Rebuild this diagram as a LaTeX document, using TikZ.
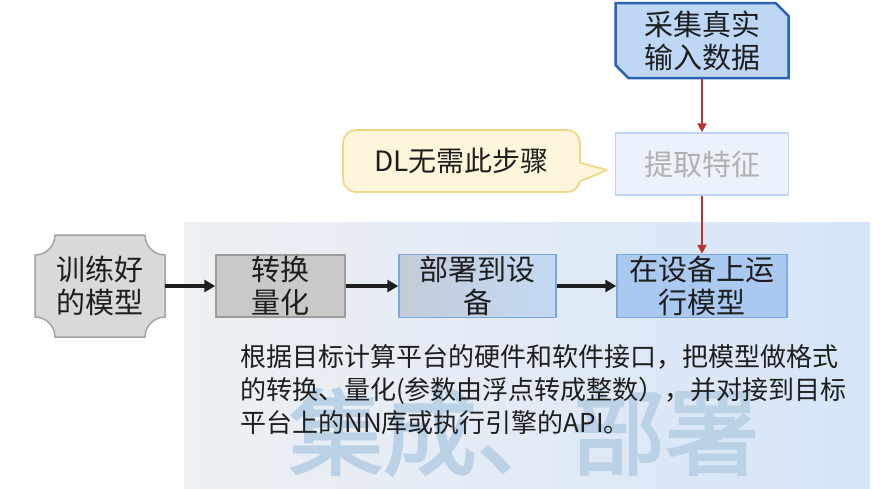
\documentclass[tikz,border=0pt]{standalone}
\usepackage{fontspec}
\newfontfamily\cjk{Noto Sans CJK SC}
\newfontfamily\cjkwm[FakeBold=2.5]{Noto Sans CJK SC}
\usetikzlibrary{shapes.misc,arrows.meta,calc}
\definecolor{txt}{HTML}{1E1E1E}
\definecolor{panelL}{HTML}{EEF0F3}
\definecolor{panelR}{HTML}{D5E5F8}
\definecolor{wm}{HTML}{BAD1E6}
\definecolor{grayfill}{HTML}{C9C9C9}
\definecolor{grayline}{HTML}{9C9C9C}
\definecolor{lgrayfill}{HTML}{D9D9D9}
\definecolor{lgrayline}{HTML}{A3A3A3}
\definecolor{bushuL}{HTML}{C3CCD8}
\definecolor{bushuR}{HTML}{C4DAF5}
\definecolor{blueline}{HTML}{7DA7DF}
\definecolor{runfill}{HTML}{A9C9F1}
\definecolor{caijifill}{HTML}{BDD7F5}
\definecolor{caijiline}{HTML}{2B62B3}
\definecolor{tiqufill}{HTML}{EBF2FB}
\definecolor{tiquline}{HTML}{BED4F1}
\definecolor{tiqutxt}{HTML}{B0B0B0}
\definecolor{calfill}{HTML}{FDF6DB}
\definecolor{calline}{HTML}{F1D686}
\definecolor{redarr}{HTML}{B83232}
\tikzset{
  boxtext/.style={font=\cjk\fontsize{29}{33}\selectfont, text=txt, align=center, inner sep=0pt},
  flowbox/.style={boxtext, draw, line width=1.5pt, minimum height=63pt},
  blackarrow/.style={draw=txt, line width=3.5pt, -{Triangle[length=11pt,width=12pt]}},
  redarrow/.style={draw=redarr, line width=2.2pt, -{Triangle[length=9pt,width=9pt]}},
}
\begin{document}
\begin{tikzpicture}[x=1pt,y=-1pt]
\useasboundingbox (0,0) rectangle (893,488);
\fill[white] (0,0) rectangle (893,488);
% background panel
\shade[left color=panelL, right color=panelR] (184,222) rectangle (870,488);
% watermark
\node[font=\cjkwm\fontsize{94}{94}\selectfont, text=wm, inner sep=0pt] (wm) at (524,432) {集成、部署};
% paragraph
\node[font=\cjk\fontsize{26}{33}\selectfont, text=txt, align=left, anchor=west, inner sep=0pt] (para) at (240,390)
  {根据目标计算平台的硬件和软件接口，把模型做格式\\的转换、量化(参数由浮点转成整数），并对接到目标\\平台上的NN库或执行引擎的API。};
% trained model shape (concave corners)
\filldraw[fill=lgrayfill, draw=lgrayline, line width=1.5pt]
  (55,235) -- (145,235) .. controls (145,246) and (154,255) .. (165,255)
  -- (165,317) .. controls (154,317) and (145,326) .. (145,337)
  -- (55,337) .. controls (55,326) and (46,317) .. (35,317)
  -- (35,255) .. controls (46,255) and (55,246) .. (55,235) -- cycle;
\node[boxtext, minimum width=130pt, minimum height=102pt] (xl) at (100,286) {训练好\\的模型};
% flow boxes
\node[flowbox, fill=grayfill, draw=grayline, minimum width=129pt, minimum height=62pt] (zh) at (280.5,286) {转换\\量化};
\node[flowbox, left color=bushuL, right color=bushuR, draw=blueline, minimum width=157pt] (bs) at (477.5,286) {部署到设\\备};
\node[flowbox, fill=runfill, draw=blueline, minimum width=170pt] (yx) at (702,286) {在设备上运\\行模型};
% top boxes
\node[boxtext, chamfered rectangle, chamfered rectangle corners={north east,south west},
  chamfered rectangle xsep=10pt, chamfered rectangle angle=45,
  fill=caijifill, draw=caijiline, line width=2.5pt, minimum width=173pt, minimum height=75pt] (cj) at (702,40.5) {采集真实\\输入数据};
\node[flowbox, fill=tiqufill, draw=tiquline, text=tiqutxt, minimum width=173pt, minimum height=62pt] (tq) at (702,164) {提取特征};
% callout
\node[boxtext, font=\cjk\fontsize{28}{33}\selectfont, draw=calline, fill=calfill, line width=1.8pt,
  rounded corners=13pt, minimum width=237pt, minimum height=62pt] (dl) at (461.5,161) {DL无需此步骤};
\fill[calfill] (578,163) -- (607,170) -- (578,181) -- cycle;
\draw[calline, line width=1.8pt, line join=round] ([yshift=-2pt]dl.east) -- (607,170) -- ([yshift=-20pt]dl.east);
% arrows
\draw[blackarrow] (xl.east) -- (zh.west);
\draw[blackarrow] (zh.east) -- (bs.west);
\draw[blackarrow] (bs.east) -- (yx.west);
\draw[redarrow] (cj.south) -- (tq.north);
\draw[redarrow] (tq.south) -- (yx.north);
\end{tikzpicture}
\end{document}
